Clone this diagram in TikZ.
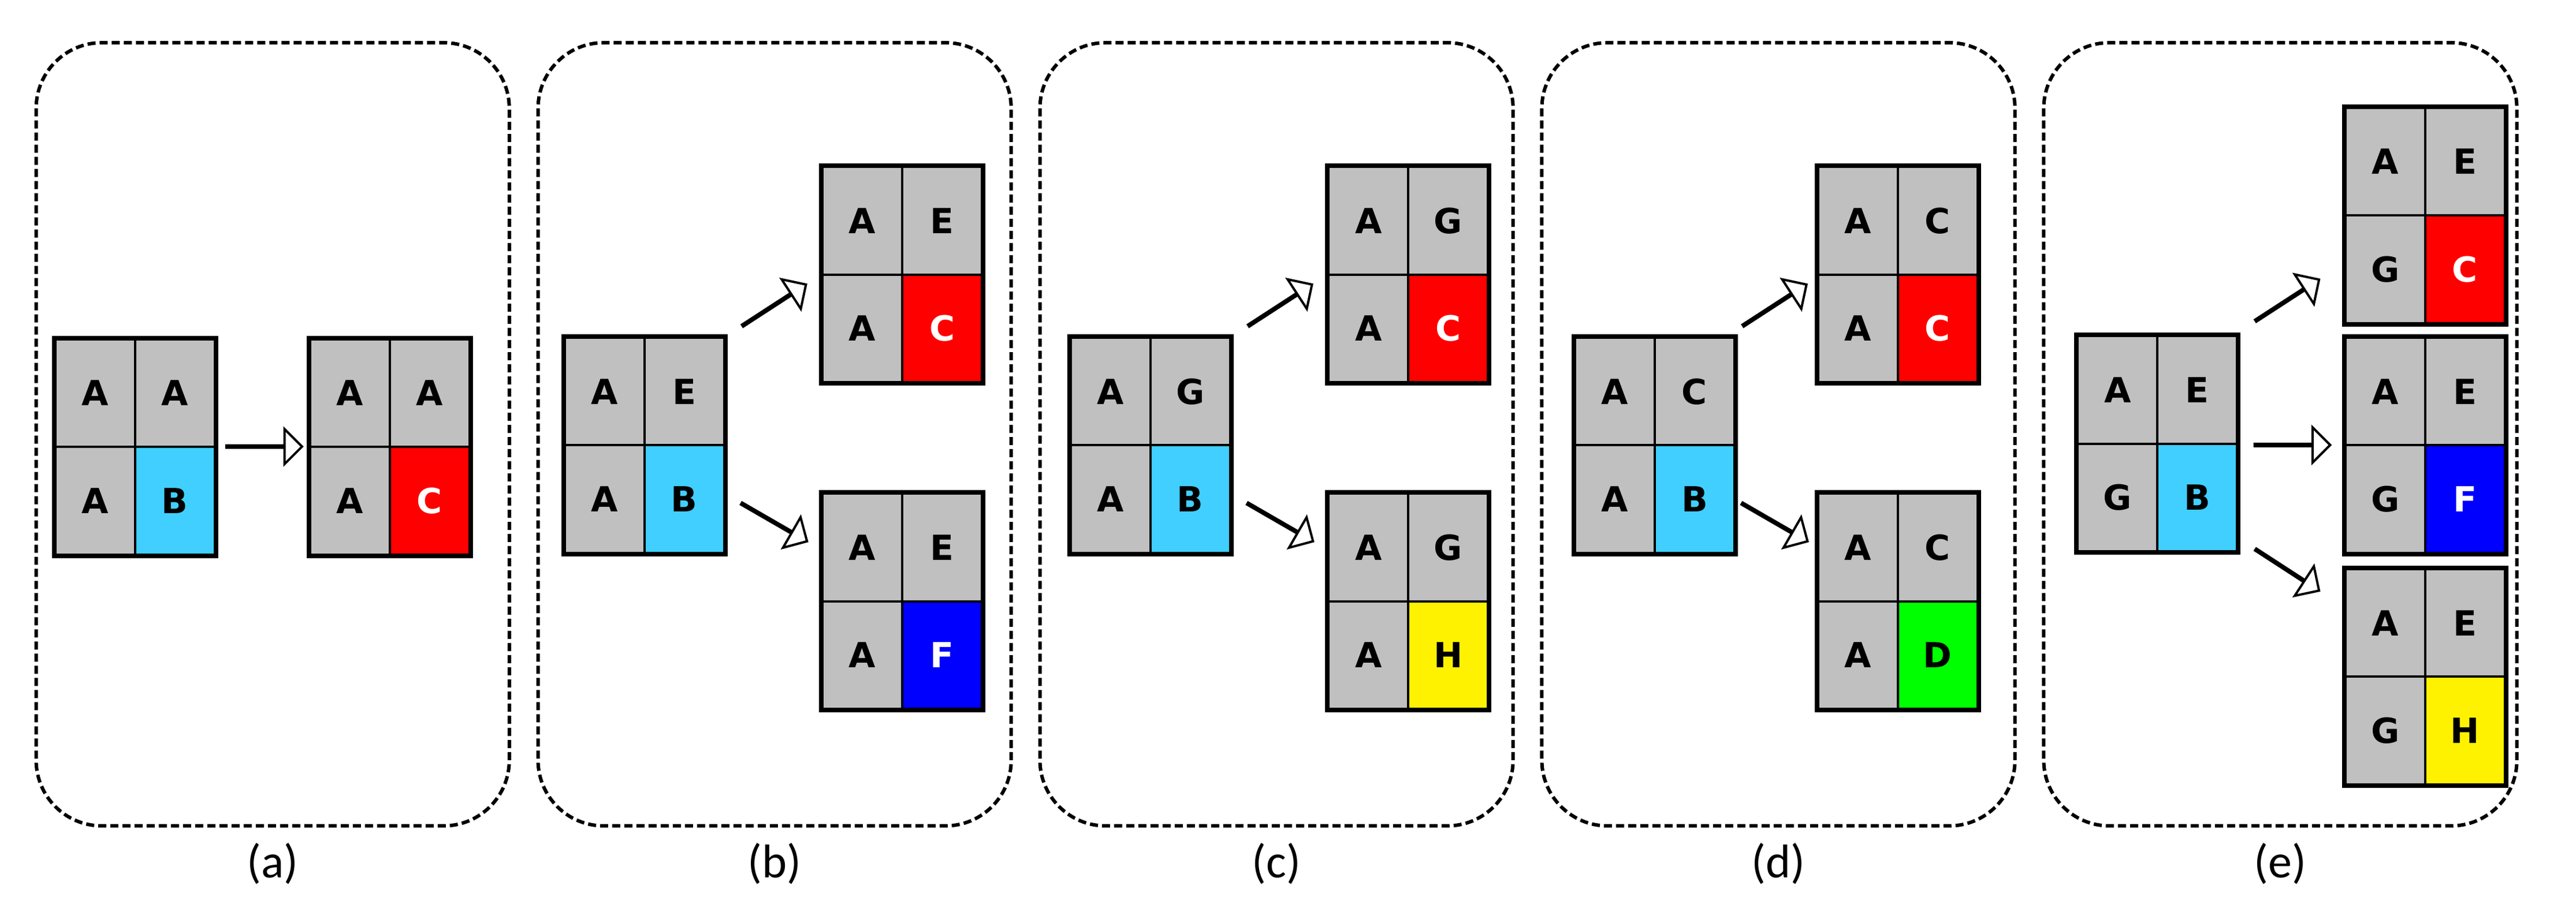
\documentclass[tikz,border=0pt]{standalone}
\usepackage{fontspec}
\setmainfont{Carlito}
\newfontfamily\cellfont{DejaVu Sans}
\usetikzlibrary{shapes.arrows}
\definecolor{cellgray}{HTML}{C0C0C0}
\definecolor{cellcyan}{HTML}{40CFFF}
\tikzset{
  panel/.style={draw,dashed,dash pattern=on 14pt off 7pt,line width=6pt,rounded corners=40mm},
  cell/.style={draw,line width=4pt,fill=cellgray,minimum width=48.5mm,minimum height=65.5mm,
    inner sep=0pt,anchor=north west,font=\cellfont\bfseries\fontsize{60}{60}\selectfont},
  frame/.style={draw,line width=8pt},
  blockarrow/.style={single arrow,draw,line width=4pt,fill=white,minimum height=46mm,
    minimum width=11mm,single arrow head extend=10mm,inner sep=0pt},
  caption/.style={font=\fontsize{82}{82}\selectfont}
}
% grid: name, x, y (top left), three letters, last letter, its fill and text colour
\newcommand{\grid}[9]{%
  \node[cell] (#1-1) at (#2,#3) {#4};
  \node[cell] (#1-2) at (#2+48.5,#3) {#5};
  \node[cell] (#1-3) at (#2,#3+65.5) {#6};
  \node[cell,fill=#8,text=#9] (#1-4) at (#2+48.5,#3+65.5) {#7};
  \draw[frame] (#1-1.north west) rectangle (#1-4.south east);
}
\begin{document}
\begin{tikzpicture}[x=1mm,y=-1mm]
  \useasboundingbox (0,0) rectangle (1568,562);
  % dashed panels and captions
  \foreach \px/\lab in {22/a,327.5/b,633/c,938.5/d,1244/e}{
    \draw[panel] (\px,26) rectangle (\px+288,503);
    \node[caption] (cap-\lab) at (\px+144,526) {(\lab)};
  }
  % panel (a)
  \grid{a0}{33}{206}{A}{A}{A}{B}{cellcyan}{black}
  \grid{a1}{188}{206}{A}{A}{A}{C}{red}{white}
  \node[blockarrow] (aar) at (160.5,272) {};
  % panel (b)
  \grid{b0}{343}{205}{A}{E}{A}{B}{cellcyan}{black}
  \grid{b1}{500}{101}{A}{E}{A}{C}{red}{white}
  \grid{b2}{500}{300}{A}{E}{A}{F}{blue}{white}
  \node[blockarrow,rotate=33] (bup) at (471,186) {};
  \node[blockarrow,rotate=-30] (bdn) at (471,318) {};
  % panel (c)
  \grid{c0}{651}{205}{A}{G}{A}{B}{cellcyan}{black}
  \grid{c1}{808}{101}{A}{G}{A}{C}{red}{white}
  \grid{c2}{808}{300}{A}{G}{A}{H}{yellow}{black}
  \node[blockarrow,rotate=33] (cup) at (779,186) {};
  \node[blockarrow,rotate=-30] (cdn) at (779,318) {};
  % panel (d)
  \grid{d0}{958}{205}{A}{C}{A}{B}{cellcyan}{black}
  \grid{d1}{1106}{101}{A}{C}{A}{C}{red}{white}
  \grid{d2}{1106}{300}{A}{C}{A}{D}{green}{black}
  \node[blockarrow,rotate=33] (dup) at (1080,186) {};
  \node[blockarrow,rotate=-30] (ddn) at (1080,318) {};
  % panel (e)
  \grid{e0}{1264}{204}{A}{E}{G}{B}{cellcyan}{black}
  \grid{e1}{1427}{65}{A}{E}{G}{C}{red}{white}
  \grid{e2}{1427}{205}{A}{E}{G}{F}{blue}{white}
  \grid{e3}{1427}{346}{A}{E}{G}{H}{yellow}{black}
  \node[blockarrow,rotate=33] (eup) at (1392,183) {};
  \node[blockarrow] (emd) at (1395,271) {};
  \node[blockarrow,rotate=-33] (edn) at (1392,347) {};
\end{tikzpicture}
\end{document}
